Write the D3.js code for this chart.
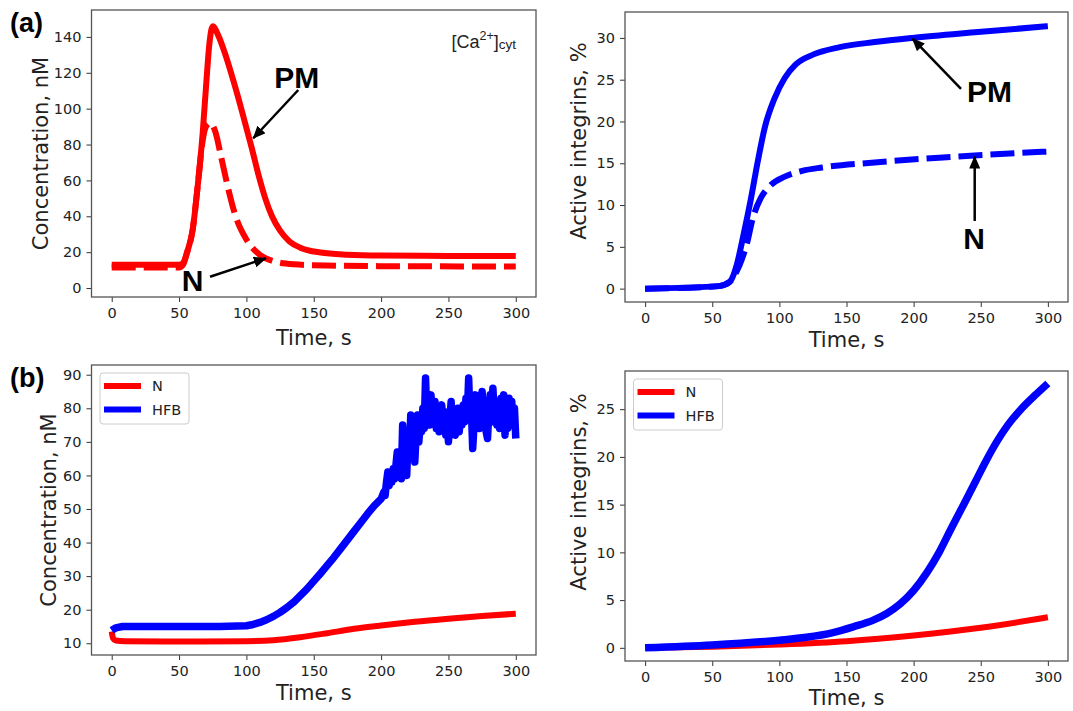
<!DOCTYPE html>
<html>
<head>
<meta charset="utf-8">
<script src="https://cdn.jsdelivr.net/npm/d3@7"></script>
<style>
  body { margin: 0; background: #fff; }
  .tick text { font-family: "DejaVu Sans", sans-serif; font-size: 14.5px; fill: #222; }
  .tick line { stroke: #333; stroke-width: 1; }
  .domain { display: none; }
  .frame { fill: none; stroke: #555; stroke-width: 1.3; }
  .axis-label { font-family: "DejaVu Sans", sans-serif; font-size: 21px; fill: #222; }
  .tag { font-family: "Liberation Sans", Arial, sans-serif; font-weight: bold; fill: #000; }
  .legend text { font-family: "DejaVu Sans", sans-serif; font-size: 14.5px; fill: #222; }
</style>
</head>
<body>
<script>
// ---- data ----
const timeTicks = [0, 50, 100, 150, 200, 250, 300];

// (a) left: cytosolic Ca2+, nM
const caPmTime  = [0, 50, 53, 56, 60, 64, 67.5, 70, 72.5, 75, 79, 84, 89, 94, 99, 104, 109, 114, 119, 125, 132, 140, 155, 175, 200, 250, 300];
const caPmValue = [13, 13, 14, 20, 32, 58, 86, 112, 136, 146, 141, 131, 119, 106, 92, 78, 63, 50, 40, 32, 26, 22.5, 19.8, 18.6, 18.1, 17.9, 17.8];
const caNTime   = [0, 50, 53, 56, 60, 64, 67.5, 70, 73, 77, 81, 86, 92, 100, 110, 120, 135, 160, 200, 300];
const caNValue  = [11.5, 11.5, 13, 20, 32, 58, 82, 90, 92, 87, 74, 57, 40, 27, 18.5, 15, 13.2, 12.5, 12.2, 12];

// (a) right: active integrins, %
const intPmTime  = [0, 55, 63, 68, 73.5, 78.5, 84, 89, 96.5, 104, 112, 125, 145, 171, 199, 248, 300];
const intPmValue = [0, 0.3, 0.8, 2.7, 6.6, 10.5, 15.3, 19.2, 22.8, 25.2, 26.8, 28, 28.9, 29.5, 30, 30.7, 31.4];
const intNTime   = [0, 55, 63, 68, 72, 76, 80, 86, 93, 104, 117, 132, 171, 222, 300];
const intNValue  = [0, 0.3, 0.8, 2, 3.5, 5.5, 8.3, 10.8, 12.3, 13.4, 14.1, 14.5, 15.1, 15.7, 16.4];

// (b) left: Ca2+, N vs HFB
const bCaNTime  = [0, 1, 3, 10, 50, 100, 120, 140, 160, 180, 200, 225, 250, 275, 300];
const bCaNValue = [13.5, 11.5, 10.8, 10.6, 10.5, 10.6, 10.9, 11.8, 13, 14.3, 15.3, 16.4, 17.3, 18.1, 18.8];
const bCaHfbTime = [0, 3, 8, 20, 50, 80, 100, 105, 110, 115, 120, 125, 130, 135, 140, 145, 150, 155, 160, 165, 170, 175, 180, 185, 190, 195,
  200, 201, 202, 203, 204, 205, 206, 207, 208, 209, 210, 211, 212, 213, 214, 215, 216, 217, 218, 219,
  220, 221, 222, 223, 224, 225, 226, 227, 228, 229, 230, 231, 232, 233, 234, 235, 236, 237, 238, 239,
  240, 241, 242, 243, 244, 245, 246, 247, 248, 249, 250, 251, 252, 253, 254, 255, 256, 257, 258, 259,
  260, 261, 262, 263, 264, 265, 266, 267, 268, 269, 270, 271, 272, 273, 274, 275, 276, 277, 278, 279,
  280, 281, 282, 283, 284, 285, 286, 287, 288, 289, 290, 291, 292, 293, 294, 295, 296, 297, 298, 299, 300];
const bCaHfbValue = [13.8, 14.6, 15, 15, 15, 15, 15.2, 15.6, 16.2, 17, 18, 19.2, 20.6, 22.2, 24.2, 26.2, 28.5, 30.8, 33.2, 35.6, 38.2, 40.8, 43.4, 46, 48.6, 51,
  53, 54, 55, 54, 58, 61, 57, 60, 58, 62, 59, 63, 67, 60, 64, 59, 75, 66, 72, 60,
  70, 66, 78, 70, 76, 64, 72, 78, 70, 75, 73, 80, 74, 89, 77, 82, 75, 84, 78, 76,
  82, 74, 78, 73, 80, 81, 76, 79, 72, 77, 70, 76, 82, 74, 79, 72, 75, 80, 73, 78,
  75, 81, 76, 83, 78, 89, 77, 80, 68, 75, 84, 76, 80, 74, 82, 85, 77, 81, 73, 71,
  79, 84, 76, 86, 78, 82, 75, 79, 74, 83, 77, 84, 72, 80, 74, 83, 77, 82, 75, 80, 71];

// (b) right: active integrins, N vs HFB
const bIntNTime   = [0, 50, 100, 150, 200, 250, 300];
const bIntNValue  = [0, 0.12, 0.35, 0.7, 1.3, 2.1, 3.2];
const bIntHfbTime  = [0, 50, 100, 120, 140, 155, 170, 180, 190, 200, 210, 219, 228, 238, 246, 254, 262, 270, 280, 290, 300];
const bIntHfbValue = [0, 0.3, 0.8, 1.1, 1.6, 2.2, 2.9, 3.6, 4.6, 6.0, 7.9, 10, 12.5, 15.2, 17.4, 19.6, 21.6, 23.3, 25, 26.4, 27.7];

const concTicks = [0, 20, 40, 60, 80, 100, 120, 140];
const intTicksA = [0, 5, 10, 15, 20, 25, 30];
const concTicksB = [10, 20, 30, 40, 50, 60, 70, 80, 90];
const intTicksB = [0, 5, 10, 15, 20, 25];

const RED = "#ff0000", BLUE = "#0000ff";

let svg = null;

appendSvg("body");
const pA = makePanel({ left: 91.5, right: 536, top: 10, bottom: 297, yDomain: [-5, 155], yTicks: concTicks,
  ylabel: "Concentration, nM", ylabelX: 48, xlabelY: 345 });
const pB = makePanel({ left: 625, right: 1068, top: 12, bottom: 302, yDomain: [-1.6, 33.1], yTicks: intTicksA,
  ylabel: "Active integrins, %", ylabelX: 586, ylabelY: 141, xlabelY: 347 });
const pC = makePanel({ left: 91.5, right: 536, top: 365, bottom: 655, yDomain: [6.5, 92.9], yTicks: concTicksB,
  ylabel: "Concentration, nM", ylabelX: 56, xlabelY: 700 });
const pD = makePanel({ left: 625, right: 1068, top: 371, bottom: 661, yDomain: [-1.38, 29.0], yTicks: intTicksB,
  ylabel: "Active integrins, %", ylabelX: 586, ylabelY: 492, xlabelY: 705 });

// (a) left
appendLine(pA, caPmTime, caPmValue, RED, 6, false);
appendLine(pA, caNTime, caNValue, RED, 6, true);
appendArrow(pA, [138.5, 110.4], [105.1, 83.5]);
appendArrow(pA, [73, 6.3], [114.5, 16.6]);
appendTag(pA, "PM", 137.3, 111.5);
appendTag(pA, "N", 60, -1.5);
appendCaLabel(pA);

// (a) right
appendLine(pB, intPmTime, intPmValue, BLUE, 6, false);
appendLine(pB, intNTime, intNValue, BLUE, 6, true);
appendArrow(pB, [235.3, 23.9], [199.2, 29.9]);
appendArrow(pB, [245.5, 8.1], [245.5, 15.8]);
appendTag(pB, "PM", 256.5, 22.3);
appendTag(pB, "N", 245, 4.8);

// (b) left
appendLine(pC, bCaNTime, bCaNValue, RED, 6, false);
appendLine(pC, bCaHfbTime, bCaHfbValue, BLUE, 7.5, false, true);
appendLegend(pC);

// (b) right
appendLine(pD, bIntNTime, bIntNValue, RED, 6, false);
appendLine(pD, bIntHfbTime, bIntHfbValue, BLUE, 7.5, false);
appendLegend(pD);

// panel letters
svg.append("text").attr("class", "tag").attr("x", 10).attr("y", 32).style("font-size", "27px").text("(a)");
svg.append("text").attr("class", "tag").attr("x", 10).attr("y", 387).style("font-size", "27px").text("(b)");


function appendSvg(domElement) {
  svg = d3.select(domElement).append("svg")
    .attr("width", 1073)
    .attr("height", 711);

  const defs = svg.append("defs");
  defs.append("marker")
    .attr("id", "head")
    .attr("markerUnits", "userSpaceOnUse")
    .attr("markerWidth", 13).attr("markerHeight", 11)
    .attr("refX", 12).attr("refY", 5.5)
    .attr("orient", "auto")
    .append("path")
    .attr("d", "M0,0 L13,5.5 L0,11 Z")
    .attr("fill", "#000");
}

function makePanel(o) {
  const x = d3.scaleLinear().domain([-15, 315]).range([o.left, o.right]);
  const y = d3.scaleLinear().domain(o.yDomain).range([o.bottom, o.top]);
  const g = svg.append("g");

  g.append("g")
    .attr("transform", `translate(0, ${o.bottom})`)
    .call(d3.axisBottom(x).tickValues(timeTicks).tickSize(5).tickPadding(6));
  g.append("g")
    .attr("transform", `translate(${o.left}, 0)`)
    .call(d3.axisLeft(y).tickValues(o.yTicks).tickSize(5).tickPadding(5));

  const clipId = "clip" + Math.round(o.left) + "_" + Math.round(o.top);
  svg.select("defs").append("clipPath").attr("id", clipId)
    .append("rect")
    .attr("x", o.left).attr("y", o.top)
    .attr("width", o.right - o.left).attr("height", o.bottom - o.top);

  const plot = g.append("g").attr("clip-path", `url(#${clipId})`);

  g.append("rect").attr("class", "frame")
    .attr("x", o.left).attr("y", o.top)
    .attr("width", o.right - o.left).attr("height", o.bottom - o.top);

  g.append("text").attr("class", "axis-label")
    .attr("text-anchor", "middle")
    .attr("x", (o.left + o.right) / 2).attr("y", o.xlabelY)
    .text("Time, s");

  const cy = o.ylabelY || (o.top + o.bottom) / 2;
  g.append("text").attr("class", "axis-label")
    .attr("text-anchor", "middle")
    .attr("transform", `translate(${o.ylabelX}, ${cy}) rotate(-90)`)
    .text(o.ylabel);

  return { x, y, g, plot, o };
}

function appendLine(p, times, values, color, width, dashed, jagged) {
  const pts = times.map((t, i) => [t, values[i]]);
  const line = d3.line()
    .x(d => p.x(d[0]))
    .y(d => p.y(d[1]))
    .curve(jagged ? d3.curveLinear : d3.curveMonotoneX);

  p.plot.append("path")
    .datum(pts)
    .attr("fill", "none")
    .attr("stroke", color)
    .attr("stroke-width", width)
    .attr("stroke-linejoin", "round")
    .attr("stroke-dasharray", dashed ? "24,8" : null)
    .attr("d", line);
}

function appendArrow(p, from, to) {
  p.g.append("line")
    .attr("x1", p.x(from[0])).attr("y1", p.y(from[1]))
    .attr("x2", p.x(to[0])).attr("y2", p.y(to[1]))
    .attr("stroke", "#000")
    .attr("stroke-width", 2.5)
    .attr("marker-end", "url(#head)");
}

function appendTag(p, label, t, v) {
  p.g.append("text").attr("class", "tag")
    .attr("text-anchor", "middle")
    .attr("x", p.x(t)).attr("y", p.y(v))
    .style("font-size", "30px")
    .text(label);
}

function appendCaLabel(p) {
  const t = p.g.append("text")
    .attr("x", p.o.right - 20).attr("y", p.o.top + 38)
    .attr("text-anchor", "end")
    .style("font-family", "'Liberation Sans', Arial, sans-serif")
    .style("font-size", "18px")
    .attr("fill", "#222");
  t.append("tspan").text("[Ca");
  t.append("tspan").attr("dy", -8).style("font-size", "12.5px").text("2+");
  t.append("tspan").attr("dy", 8).text("]");
  t.append("tspan").attr("dy", 1).style("font-size", "13.5px").text("cyt");
}

function appendLegend(p) {
  const x0 = p.o.left + 8.5, y0 = p.o.top + 8;
  const lg = p.g.append("g").attr("class", "legend");
  lg.append("rect")
    .attr("x", x0).attr("y", y0)
    .attr("width", 89).attr("height", 51)
    .attr("rx", 3)
    .attr("fill", "#fff").attr("fill-opacity", 0.8)
    .attr("stroke", "#ccc");

  const names = ["N", "HFB"], colors = [RED, BLUE];
  names.forEach((n, i) => {
    const yy = y0 + 13 + i * 23.5;
    lg.append("line")
      .attr("x1", x0 + 4).attr("x2", x0 + 41)
      .attr("y1", yy).attr("y2", yy)
      .attr("stroke", colors[i]).attr("stroke-width", 6);
    lg.append("text")
      .attr("x", x0 + 52).attr("y", yy + 5)
      .text(n);
  });
}
</script>
</body>
</html>
